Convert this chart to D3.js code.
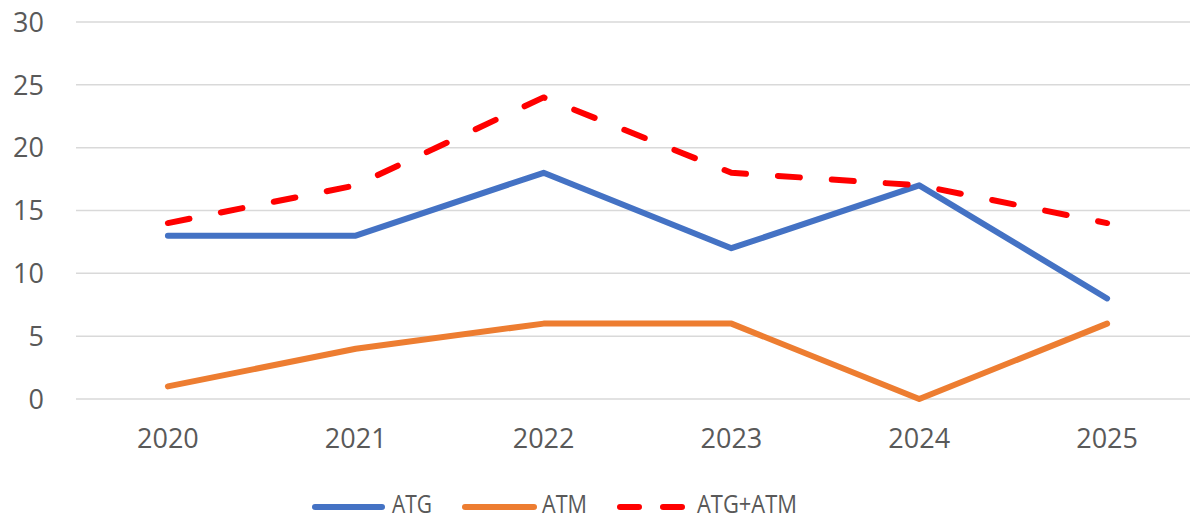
<!DOCTYPE html>
<html>
<head>
<meta charset="utf-8">
<script src="https://cdn.jsdelivr.net/npm/d3@7"></script>
<style>
  body { margin: 0; background: #fff; }
  svg { display: block; }
  text { font-family: "Open Sans", sans-serif; fill: #595959; }
</style>
</head>
<body>
<div id="chart"></div>
<script>
var years  = ["2020", "2021", "2022", "2023", "2024", "2025"];
var atg    = [13, 13, 18, 12, 17, 8];
var atm    = [1, 4, 6, 6, 0, 6];
var atgAtm = [14, 17, 24, 18, 17, 14];
var yTicks = [0, 5, 10, 15, 20, 25, 30];

var width = 1190, height = 519;
var plot = {left: 74, right: 1201, top: 22, bottom: 399};

var svg = d3.select("#chart").append("svg")
    .attr("width", width)
    .attr("height", height);

var x = d3.scalePoint()
    .domain(years)
    .range([plot.left, plot.right])
    .padding(0.5);

var y = d3.scaleLinear()
    .domain([0, 30])
    .range([plot.bottom, plot.top]);

// gridlines
svg.append("g")
    .selectAll("line")
    .data(yTicks)
    .join("line")
    .attr("x1", plot.left + 2)
    .attr("x2", width)
    .attr("y1", function(d) { return y(d); })
    .attr("y2", function(d) { return y(d); })
    .style("stroke", "#d9d9d9")
    .style("stroke-width", 1.5);

// y labels
svg.append("g")
    .selectAll("text")
    .data(yTicks)
    .join("text")
    .attr("x", 44)
    .attr("y", function(d) { return y(d); })
    .attr("dy", "0.36em")
    .attr("text-anchor", "end")
    .style("font-size", "27px")
    .text(function(d) { return d; });

// x labels
svg.append("g")
    .selectAll("text")
    .data(years)
    .join("text")
    .attr("x", function(d) { return x(d); })
    .attr("y", 438)
    .attr("dy", "0.36em")
    .attr("text-anchor", "middle")
    .style("font-size", "27px")
    .text(function(d) { return d; });

var series = [
  {name: "ATG", values: atg, color: "#4472c4", dash: null},
  {name: "ATM", values: atm, color: "#ed7d31", dash: null},
  {name: "ATG+ATM", values: atgAtm, color: "#ff0000", dash: "22,32"}
];

var line = d3.line()
    .x(function(d, i) { return x(years[i]); })
    .y(function(d) { return y(d); });

series.forEach(function(s) {
  svg.append("path")
    .datum(s.values)
    .attr("d", line)
    .style("fill", "none")
    .style("stroke", s.color)
    .style("stroke-width", 6)
    .style("stroke-linecap", "round")
    .style("stroke-linejoin", "round")
    .style("stroke-dasharray", s.dash);
});

// legend
var legendItems = [
  {x1: 315, x2: 382, tx: 392, tw: 40},
  {x1: 465, x2: 534, tx: 542, tw: 45},
  {x1: 620, x2: 682, tx: 697, tw: 100}
];
var legendY = 505;

series.forEach(function(s, i) {
  var item = legendItems[i];
  svg.append("line")
    .attr("x1", item.x1)
    .attr("x2", item.x2)
    .attr("y1", legendY + 2)
    .attr("y2", legendY + 2)
    .style("stroke", s.color)
    .style("stroke-width", 6)
    .style("stroke-linecap", "round")
    .style("stroke-dasharray", s.dash ? "19,24" : null);
  svg.append("text")
    .attr("x", item.tx)
    .attr("y", legendY)
    .attr("dy", "0.3em")
    .attr("textLength", item.tw)
    .attr("lengthAdjust", "spacingAndGlyphs")
    .style("font-size", "25px")
    .text(s.name);
});
</script>
</body>
</html>
